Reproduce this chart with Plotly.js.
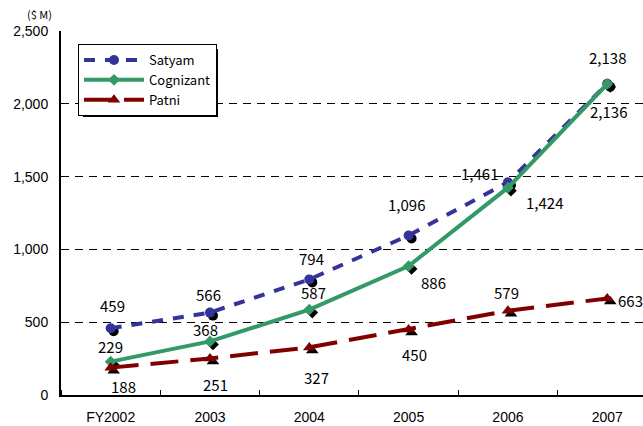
<!DOCTYPE html>
<html>
<head>
<meta charset="utf-8">
<script src="https://cdn.plot.ly/plotly-3.0.1.min.js"></script>
<style>html,body{margin:0;padding:0;background:#fff;}#chart{width:643px;height:426px;}</style>
</head>
<body>
<div id="chart"></div>
<script>
const categories = ["FY2002", "2003", "2004", "2005", "2006", "2007"];
const satyam = [459, 566, 794, 1096, 1461, 2138];
const cognizant = [229, 368, 587, 886, 1424, 2136];
const patni = [188, 251, 327, 450, 579, 663];
const yTicks = [0, 500, 1000, 1500, 2000, 2500];
const yTickText = ["0", "500", "1,000", "1,500", "2,000", "2,500"];

// label offsets in pixels [dx, dy(up)]
const satyamOff = [[2,23],[-1,18],[2,21],[-2,31],[-28,9],[0,26]];
const cogOff = [[0,15],[-4,12],[4,17],[25,-16],[37,-15],[1,-27]];
const patniOff = [[13,-19],[6,-26],[7,-30],[6,-25],[-1,18],[23,-2]];

const idx = categories.map((c, i) => i);
const fmt = v => v.toLocaleString('en-US');

const W = 643, H = 426;
const m = {l: 61, r: 0, t: 31, b: 31};
const plotW = W - m.l - m.r, plotH = H - m.t - m.b;
const xr = [-0.5, 5.36];
const yr = [0, 2500];
const pxPerX = plotW / (xr[1] - xr[0]);
const pxPerY = plotH / (yr[1] - yr[0]);
const sdx = 3 / pxPerX, sdy = 3 / pxPerY;

const blue = '#333399', green = '#339966', red = '#800000';

const traces = [];
// shadows
traces.push({x: idx, y: satyam, xaxis: 'x2', yaxis: 'y2', mode: 'markers', showlegend: false, hoverinfo: 'skip',
  marker: {symbol: 'circle', size: 10, color: '#000'}});
traces.push({x: idx, y: cognizant, xaxis: 'x2', yaxis: 'y2', mode: 'markers', showlegend: false, hoverinfo: 'skip',
  marker: {symbol: 'diamond', size: 9, color: '#000'}});
traces.push({x: idx, y: patni, xaxis: 'x2', yaxis: 'y2', mode: 'markers', showlegend: false, hoverinfo: 'skip',
  marker: {symbol: 'triangle-up', size: 11, color: '#000'}});
// main
traces.push({x: idx, y: satyam, xaxis: 'x3', yaxis: 'y3', name: 'Satyam', mode: 'lines+markers',
  line: {color: blue, width: 4, dash: '11px,10px'}, marker: {symbol: 'circle', size: 10, color: blue}});
traces.push({x: idx, y: cognizant, xaxis: 'x3', yaxis: 'y3', name: 'Cognizant', mode: 'lines+markers',
  line: {color: green, width: 4}, marker: {symbol: 'diamond', size: 9, color: green}});
traces.push({x: idx, y: patni, xaxis: 'x3', yaxis: 'y3', name: 'Patni', mode: 'lines+markers',
  line: {color: red, width: 4, dash: '28px,12px'}, marker: {symbol: 'triangle-up', size: 11, color: red}});
// dummy on base axes
traces.push({x: [0], y: [0], xaxis: 'x', yaxis: 'y', mode: 'markers', showlegend: false, hoverinfo: 'skip',
  marker: {size: 1, opacity: 0}});

const px = x => (x - m.l) / plotW;
const py = y => (H - m.b - y) / plotH;

const annotations = [];
const labelFont = {family: '"Noto Sans CJK JP", "DejaVu Sans", sans-serif', size: 15, color: '#000'};
function addLabels(vals, offs) {
  vals.forEach((v, i) => {
    annotations.push({x: i, y: v, xref: 'x', yref: 'y', text: fmt(v), showarrow: false,
      xanchor: 'center', yanchor: 'middle',
      xshift: offs[i][0], yshift: offs[i][1], font: labelFont});
  });
}
addLabels(satyam, satyamOff);
addLabels(cognizant, cogOff);
addLabels(patni, patniOff);
annotations.push({x: px(39), y: py(14), xref: 'paper', yref: 'paper', text: '($&nbsp;M)', showarrow: false,
  xanchor: 'center', yanchor: 'middle',
  font: {family: '"Noto Sans CJK JP", sans-serif', size: 11, color: '#000'}});

const tickFont = {family: '"Liberation Sans", Arial, sans-serif', size: 14, color: '#000'};

const layout = {
  width: W, height: H,
  margin: m,
  paper_bgcolor: '#fff', plot_bgcolor: '#fff',
  font: {family: '"Liberation Sans", Arial, sans-serif', size: 14, color: '#000'},
  xaxis: {range: xr, tickvals: idx, ticktext: categories, ticks: '', showgrid: false, zeroline: false,
    showline: true, linecolor: '#000', linewidth: 2, fixedrange: true, ticklabelstandoff: 8,
    tickfont: tickFont,
    minor: {tick0: 0.5, dtick: 1, ticks: 'inside', ticklen: 5, tickcolor: '#000', tickwidth: 1, showgrid: false}},
  yaxis: {range: yr, tickvals: yTicks, ticktext: yTickText, ticks: '', showgrid: true, gridcolor: '#000',
    griddash: '8px,6px', gridwidth: 1, zeroline: false, showline: true, linecolor: '#000', linewidth: 2,
    fixedrange: true, ticklabelstandoff: 8, tickfont: tickFont},
  xaxis2: {overlaying: 'x', range: [xr[0] - sdx, xr[1] - sdx], visible: false, fixedrange: true},
  yaxis2: {overlaying: 'y', range: [yr[0] + sdy, yr[1] + sdy], visible: false, fixedrange: true, anchor: 'x2'},
  xaxis3: {overlaying: 'x', range: xr, visible: false, fixedrange: true},
  yaxis3: {overlaying: 'y', range: yr, visible: false, fixedrange: true, anchor: 'x3'},
  showlegend: true,
  legend: {x: px(78), y: py(44), xanchor: 'left', yanchor: 'top', bgcolor: '#fff', bordercolor: '#000',
    borderwidth: 1, itemwidth: 60, tracegroupgap: 0,
    font: {family: '"Noto Sans CJK JP", "DejaVu Sans", sans-serif', size: 13, color: '#000'}},
  shapes: [{type: 'rect', xref: 'paper', yref: 'paper', x0: px(83), x1: px(218), y0: py(117), y1: py(49),
    fillcolor: '#000', line: {width: 0}, layer: 'above'}],
  annotations: annotations
};

Plotly.newPlot('chart', traces, layout, {displayModeBar: false, staticPlot: true});
</script>
</body>
</html>
